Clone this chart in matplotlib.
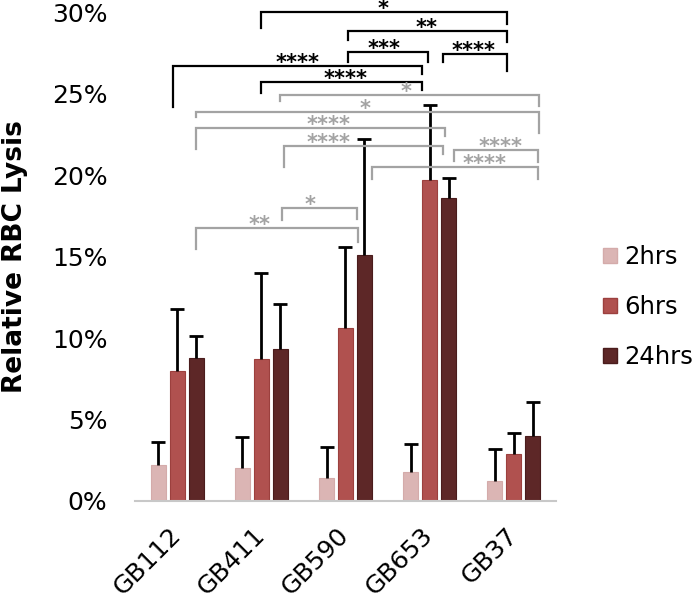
import numpy as np
import matplotlib
matplotlib.use("Agg")
from matplotlib import pyplot as plt
from matplotlib.patches import Patch

# values (percent)
strains = ["GB112", "GB411", "GB590", "GB653", "GB37"]
times = ["2hrs", "6hrs", "24hrs"]
lysis_2h = [2.2, 2.0, 1.4, 1.8, 1.2]
lysis_6h = [8.0, 8.7, 10.6, 19.7, 2.9]
lysis_24h = [8.8, 9.3, 15.1, 18.6, 4.0]
err_2h = [1.4, 1.9, 1.9, 1.7, 2.0]
err_6h = [3.8, 5.3, 5.0, 4.6, 1.3]
err_24h = [1.3, 2.8, 7.1, 1.2, 2.1]

colors = ["#dbb5b4", "#b0514f", "#5d2727"]
edges = ["#d4abaa", "#9c403e", "#4a1c1c"]

# significance brackets: (x1, x2, y, left drop to, right drop to, label, label x, black?)
brackets = [
    (0.991, 3.917, 29.99, 29.01, 29.26, "*", 2.443, True),
    (2.030, 3.917, 28.83, 28.27, 28.15, "**", 2.962, True),
    (2.030, 2.985, 27.54, 26.92, 26.92, "***", 2.454, True),
    (3.162, 3.917, 27.41, 26.92, 26.37, "****", 3.528, True),
    (-0.047, 2.914, 26.67, 24.15, 26.18, "****", 1.428, True),
    (0.991, 2.914, 25.69, 25.02, 25.20, "****", 2.006, True),
    (1.227, 4.295, 24.89, 24.52, 24.22, "*", 2.726, False),
    (0.224, 4.295, 23.85, 23.54, 22.56, "*", 2.230, False),
    (0.224, 3.186, 22.86, 21.57, 22.37, "****", 1.794, False),
    (1.274, 3.162, 21.76, 20.47, 21.27, "****", 1.794, False),
    (3.292, 4.283, 21.51, 20.84, 20.77, "****", 3.847, False),
    (2.313, 4.283, 20.47, 19.73, 19.73, "****", 3.658, False),
    (1.251, 2.136, 17.95, 17.27, 17.33, "*", 1.581, False),
    (0.224, 2.148, 16.72, 15.43, 15.92, "**", 0.979, False),
]

plt.rcParams["font.family"] = ["DejaVu Sans"]

fig = plt.figure(figsize=(7, 6.01), dpi=100)
ax = fig.add_axes([0.193, 0.1664, 0.601, 0.8136])

x = np.arange(len(strains))
width = 0.18
offset = 0.225
series = [(lysis_2h, err_2h), (lysis_6h, err_6h), (lysis_24h, err_24h)]
for i, (vals, errs) in enumerate(series):
    pos = x + (i - 1) * offset
    ax.bar(pos, vals, width=width, color=colors[i], edgecolor=edges[i],
           linewidth=0.8, label=times[i], zorder=2)
    eb = ax.errorbar(pos, vals, yerr=[np.zeros(len(errs)), errs], fmt="none",
                     ecolor="black", elinewidth=2.0, capsize=5, capthick=2.0, zorder=3)
    # only the upper cap, like the original
    eb[1][0].set_visible(False)

for x1, x2, y, l_end, r_end, label, lx, black in brackets:
    c = "black" if black else "#a3a3a3"
    ax.plot([x1, x1, x2, x2], [l_end, y, y, r_end], color=c, lw=1.6,
            clip_on=False, zorder=4, solid_joinstyle="miter")
    ax.text(lx, y - 0.18, label, color=c, fontsize=15, fontweight="bold",
            ha="center", va="baseline", clip_on=False, zorder=5)

ax.set_xlim(-0.5, 4.5)
ax.set_ylim(0, 30)
ax.set_yticks(np.arange(0, 31, 5))
ax.set_yticklabels([f"{v}%" for v in range(0, 31, 5)], fontsize=18)
ax.set_xticks(x)
ax.set_xticklabels(strains, fontsize=18, rotation=45, ha="right",
                   va="center", rotation_mode="anchor")
ax.tick_params(axis="y", length=0, pad=20)
ax.tick_params(axis="x", length=0, pad=22)
ax.set_ylabel("Relative RBC Lysis", fontsize=19, fontweight="bold", labelpad=17)

for side in ["top", "right", "left"]:
    ax.spines[side].set_visible(False)
ax.spines["bottom"].set_color("#c8c8c8")
ax.spines["bottom"].set_linewidth(1.5)

handles = [Patch(facecolor=colors[i], edgecolor=edges[i], label=times[i]) for i in range(3)]
fig.legend(handles=handles, loc="center left", bbox_to_anchor=(0.862, 0.489),
           frameon=False, fontsize=17.5, handlelength=0.55, handleheight=0.55,
           handletextpad=0.3, labelspacing=1.08, borderpad=0, borderaxespad=0)

plt.savefig("out.png", dpi=100)
plt.close()
